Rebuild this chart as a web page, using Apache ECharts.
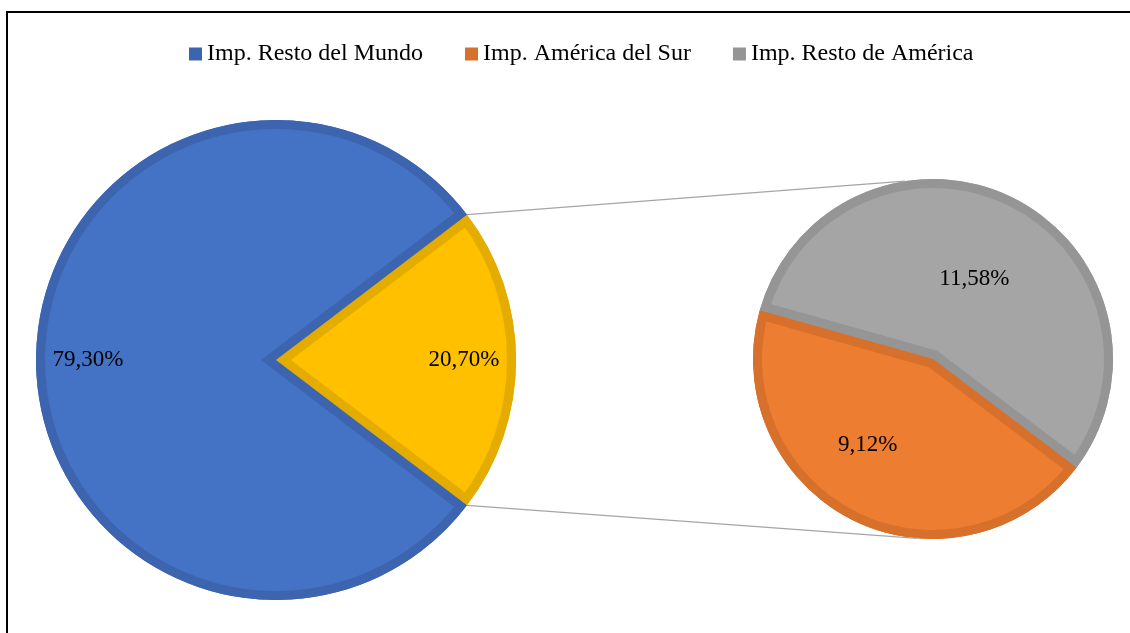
<!DOCTYPE html>
<html>
<head>
<meta charset="utf-8">
<script src="https://cdn.jsdelivr.net/npm/echarts@6/dist/echarts.min.js"></script>
<style>
    html, body { margin: 0; padding: 0; background: #fff; }
    #chart { width: 1130px; height: 633px; position: relative; }
    .frame {
        position: absolute;
        left: 6px;
        top: 11px;
        width: 1200px;
        height: 700px;
        border-left: 2px solid #000;
        border-top: 2px solid #000;
        pointer-events: none;
    }
</style>
</head>
<body>
<div id="chart"></div>
<div class="frame"></div>
<script>
// datos del gráfico
const mainNames = ['Imp. Resto del Mundo', 'Imp. América']
const mainValues = [79.30, 20.70]
const mainColors = ['#4472C4', '#FFC000']
const mainBorders = ['#3D65AF', '#E5AC00']

const subNames = ['Imp. América del Sur', 'Imp. Resto de América']
const subValues = [9.12, 11.58]
const subColors = ['#ED7D31', '#A5A5A5']
const subBorders = ['#D6702B', '#959595']

const legendNames = ['Imp. Resto del Mundo', 'Imp. América del Sur', 'Imp. Resto de América']

// geometría de las dos tortas
const mainCenter = [276, 360]
const mainR = 240
const subCenter = [933, 359]
const subR = 180
const border = 9

const font = 'Liberation Serif'
const fmt = p => p.value.toFixed(2).replace('.', ',') + '%'
const clear = 'rgba(0,0,0,0)'
const rad = Math.PI / 180

// la porción amarilla queda centrada en 0 grados
const mainStart = mainValues[1] / (mainValues[0] + mainValues[1]) * 180
const subStart = 164.3

const toXY = (c, r, deg) => [c[0] + r * Math.cos(deg * rad), c[1] - r * Math.sin(deg * rad)]
const p1 = toXY(mainCenter, mainR, mainStart)
const p2 = toXY(mainCenter, mainR, -mainStart)
const q1 = toXY(subCenter, subR, 99)
const q2 = toXY(subCenter, subR, 265)

// torta de dos porciones con borde interior (como Excel): varias capas de pie superpuestas
function insetPie(tag, names, values, fills, borders, c, R, d, start, small) {
    const big = 1 - small
    const total = values[0] + values[1]
    const spans = values.map(v => v / total * 360)
    const smallStart = start + (small === 0 ? 0 : spans[0])
    const phi = (smallStart + spans[small] / 2) * rad
    const half = spans[small] / 2 * rad
    const s = d / Math.sin(half)
    const v = [Math.cos(phi), -Math.sin(phi)]
    const cBack = [c[0] - s * v[0], c[1] - s * v[1]]
    const cFront = [c[0] + s * v[0], c[1] + s * v[1]]
    const rBack = s * Math.cos(half) + Math.sqrt((R - 0.5) * (R - 0.5) - d * d)

    const layer = (key, center, radius, cols) => ({
        type: 'pie',
        center: center,
        radius: radius,
        clockwise: false,
        startAngle: start,
        silent: true,
        data: names.map((n, i) => ({
            name: key ? n + ' ' + tag + key : n,
            value: values[i],
            itemStyle: { color: cols[i] }
        })),
        label: { show: false },
        labelLine: { show: false },
        emphasis: { disabled: true }
    })
    const pick = (iBig, iSmall) => names.map((n, i) => i === big ? iBig : iSmall)

    return [
        layer('a', c, [0, R], pick(fills[big], clear)),
        layer('b', cBack, [0, rBack], pick(clear, borders[big])),
        layer('c', c, [0, R], pick(clear, borders[small])),
        layer('d', cFront, [0, R - s], pick(clear, fills[small])),
        layer('', c, [R - d, R], borders)
    ]
}

const labelStyle = {
    show: true,
    position: 'inside',
    formatter: fmt,
    fontFamily: font,
    fontSize: 23,
    color: '#000'
}

const chart = echarts.init(document.getElementById('chart'))
chart.setOption({
    animation: false,
    legend: {
        data: legendNames,
        top: 37,
        left: 184,
        icon: 'rect',
        itemWidth: 13,
        itemHeight: 13,
        itemGap: 42,
        textStyle: { fontFamily: font, fontSize: 24, color: '#000' },
        selectedMode: false
    },
    graphic: [
        { type: 'line', shape: { x1: p1[0], y1: p1[1], x2: q1[0], y2: q1[1] }, style: { stroke: '#A5A5A5', lineWidth: 1.3 }, z: 100 },
        { type: 'line', shape: { x1: p2[0], y1: p2[1], x2: q2[0], y2: q2[1] }, style: { stroke: '#A5A5A5', lineWidth: 1.3 }, z: 100 }
    ],
    series: [
        ...insetPie('m', mainNames, mainValues, mainColors, mainBorders, mainCenter, mainR, border, mainStart, 1),
        ...insetPie('s', subNames, subValues, subColors, subBorders, subCenter, subR, border, subStart, 0),
        {
            // etiquetas de la torta principal
            type: 'pie',
            center: mainCenter,
            radius: [130, mainR],
            clockwise: false,
            startAngle: mainStart,
            silent: true,
            data: mainNames.map((n, i) => ({ name: n + ' lbl', value: mainValues[i] })),
            itemStyle: { color: clear },
            label: labelStyle,
            labelLine: { show: false },
            emphasis: { disabled: true }
        },
        {
            // etiquetas de la torta secundaria
            type: 'pie',
            center: subCenter,
            radius: [0, subR],
            clockwise: false,
            startAngle: subStart,
            silent: true,
            data: subNames.map((n, i) => ({
                name: n + ' lbl',
                value: subValues[i],
                label: i === 0 ? { offset: [-24, 3] } : { offset: [0, 3] }
            })),
            itemStyle: { color: clear },
            label: labelStyle,
            labelLine: { show: false },
            emphasis: { disabled: true }
        }
    ]
})
</script>
</body>
</html>
